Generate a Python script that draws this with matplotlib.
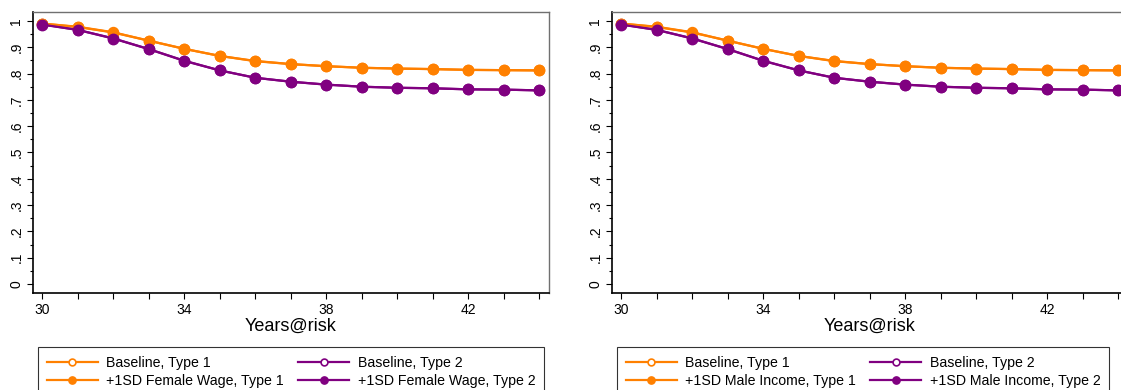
import matplotlib.pyplot as plt
from matplotlib.ticker import MultipleLocator, FixedLocator

plt.rcParams['font.family'] = ['Liberation Sans', 'DejaVu Sans']

years = list(range(30, 45))

# survival at each year at risk, Type 1 (orange) and Type 2 (purple)
base_type1 = [0.990, 0.978, 0.957, 0.925, 0.894, 0.867, 0.848, 0.836,
              0.828, 0.822, 0.819, 0.817, 0.814, 0.813, 0.812]
base_type2 = [0.987, 0.966, 0.934, 0.893, 0.849, 0.812, 0.784, 0.769,
              0.758, 0.750, 0.746, 0.744, 0.740, 0.739, 0.736]

wage_type1 = [0.990, 0.977, 0.956, 0.925, 0.894, 0.867, 0.847, 0.836,
              0.828, 0.822, 0.819, 0.817, 0.814, 0.813, 0.812]
wage_type2 = [0.986, 0.966, 0.933, 0.893, 0.848, 0.812, 0.784, 0.769,
              0.758, 0.750, 0.746, 0.744, 0.740, 0.739, 0.736]

income_type1 = [0.990, 0.977, 0.956, 0.925, 0.894, 0.867, 0.847, 0.836,
                0.828, 0.822, 0.819, 0.817, 0.814, 0.813, 0.812]
income_type2 = [0.986, 0.966, 0.933, 0.893, 0.848, 0.812, 0.784, 0.769,
                0.758, 0.750, 0.746, 0.744, 0.740, 0.739, 0.736]

panels = [("+1SD Female Wage", wage_type1, wage_type2),
          ("+1SD Male Income", income_type1, income_type2)]

y_ticks = [0, 0.1, 0.2, 0.3, 0.4, 0.5, 0.6, 0.7, 0.8, 0.9, 1.0]
y_labels = ["0", ".1", ".2", ".3", ".4", ".5", ".6", ".7", ".8", ".9", "1"]
x_ticks = [30, 34, 38, 42]

ORANGE = "#ff8000"
PURPLE = "#800080"

W, H = 1121, 390
fig = plt.figure(figsize=(W / 100, H / 100), dpi=100)

lefts = [33, 612]
for left, (label, t1, t2) in zip(lefts, panels):
    ax = fig.add_axes([left / W, 97 / H, 516 / W, 281 / H])

    h_b1, = ax.plot(years, base_type1, color=ORANGE, lw=1.6, marker='o', ms=7,
                    mfc='white', mec=ORANGE, mew=1.2)
    h_b2, = ax.plot(years, base_type2, color=PURPLE, lw=1.6, marker='o', ms=7,
                    mfc='white', mec=PURPLE, mew=1.2)
    h_s1, = ax.plot(years, t1, color=ORANGE, lw=1.6, marker='o', ms=7.5,
                    mfc=ORANGE, mec=ORANGE)
    h_s2, = ax.plot(years, t2, color=PURPLE, lw=1.6, marker='o', ms=7.5,
                    mfc=PURPLE, mec=PURPLE)

    ax.set_xlim(29.74, 44.27)
    ax.set_ylim(-0.034, 1.034)

    ax.set_xticks(x_ticks)
    ax.xaxis.set_minor_locator(MultipleLocator(1))
    ax.set_yticks(y_ticks)
    ax.set_yticklabels(y_labels, rotation=90, va='center')
    ax.yaxis.set_minor_locator(FixedLocator([v / 100 for v in range(5, 100, 10)]))

    ax.tick_params(axis='both', which='major', labelsize=10, length=4,
                   width=0.8, color='black', pad=3)
    ax.tick_params(axis='x', which='minor', length=4, width=0.8)
    ax.tick_params(axis='y', which='minor', length=2.5, width=0.8)

    ax.spines['left'].set_linewidth(1.2)
    ax.spines['bottom'].set_linewidth(1.2)
    for side in ('top', 'right'):
        ax.spines[side].set_color('#707070')
        ax.spines[side].set_linewidth(1.0)

    ax.set_xlabel("Years@risk", fontsize=13, labelpad=1)

    leg = ax.legend([h_b1, h_s1, h_b2, h_s2],
                    ["Baseline, Type 1", label + ", Type 1",
                     "Baseline, Type 2", label + ", Type 2"],
                    ncol=2, loc='upper left',
                    bbox_to_anchor=((left + 5) / W, 1 - 347 / H),
                    bbox_transform=fig.transFigure, borderaxespad=0,
                    fontsize=10.2, frameon=True, fancybox=False,
                    edgecolor='black', handlelength=3.6, handletextpad=0.58,
                    columnspacing=1.05, labelspacing=0.3, markerscale=0.7,
                    borderpad=0.6)
    leg.get_frame().set_linewidth(0.8)

fig.savefig("out.png", dpi=100)
